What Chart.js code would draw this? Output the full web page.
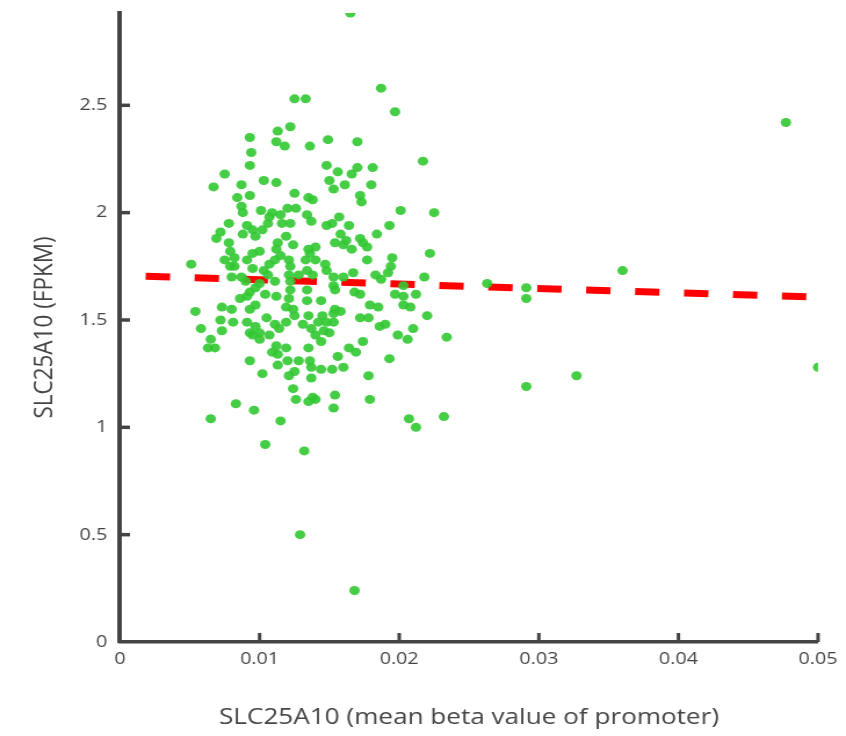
<!DOCTYPE html>
<html><head><meta charset="utf-8">
<script src="https://cdn.jsdelivr.net/npm/chart.js@4/dist/chart.umd.min.js"></script>
<style>html,body{margin:0;padding:0;background:#fff;overflow:hidden}
#c{display:block}</style>
</head><body>
<canvas id="c" width="729" height="736" style="width:846px;height:736px"></canvas>
<script>
// promoter mean beta value (x) and expression FPKM (y)
const xValues = [
0.0125,0.0113,0.0122,0.0093,0.0112,0.0118,0.0094,0.0093,0.0075,0.0067,
0.0087,0.0103,0.0112,0.0125,0.0093,0.0084,0.0133,0.0187,0.0197,0.0149,
0.0170,0.0136,0.0217,0.0148,0.0156,0.0170,0.0166,0.0181,0.0150,0.0153,
0.0161,0.0180,0.0172,0.0135,0.0138,0.0087,0.0088,0.0101,0.0109,0.0115,
0.0120,0.0126,0.0107,0.0078,0.0091,0.0088,0.0095,0.0102,0.0106,0.0116,
0.0122,0.0072,0.0069,0.0097,0.0119,0.0078,0.0113,0.0124,0.0079,0.0095,
0.0100,0.0112,0.0115,0.0075,0.0082,0.0091,0.0111,0.0121,0.0051,0.0079,
0.0082,0.0095,0.0107,0.0103,0.0122,0.0080,0.0087,0.0106,0.0121,0.0128,
0.0090,0.0111,0.0100,0.0122,0.0097,0.0093,0.0122,0.0086,0.0091,0.0104,
0.0112,0.0121,0.0173,0.0201,0.0225,0.0134,0.0137,0.0157,0.0148,0.0152,
0.0164,0.0193,0.0184,0.0158,0.0154,0.0162,0.0172,0.0174,0.0160,0.0177,
0.0166,0.0135,0.0140,0.0136,0.0177,0.0195,0.0222,0.0133,0.0140,0.0147,
0.0148,0.0194,0.0192,0.0183,0.0167,0.0160,0.0153,0.0134,0.0138,0.0187,
0.0218,0.0203,0.0153,0.0154,0.0168,0.0172,0.0197,0.0212,0.0134,0.0144,
0.0179,0.0203,0.0208,0.0220,0.0210,0.0206,0.0234,0.0477,0.0360,0.0263,
0.0291,0.0291,0.0500,0.0327,0.0291,0.0207,0.0212,0.0232,0.0054,0.0073,
0.0080,0.0093,0.0097,0.0119,0.0124,0.0125,0.0072,0.0081,0.0091,0.0105,
0.0111,0.0119,0.0058,0.0073,0.0097,0.0093,0.0100,0.0114,0.0095,0.0107,
0.0100,0.0065,0.0063,0.0068,0.0112,0.0119,0.0109,0.0113,0.0128,0.0120,
0.0093,0.0113,0.0102,0.0121,0.0125,0.0124,0.0126,0.0083,0.0096,0.0065,
0.0115,0.0134,0.0154,0.0158,0.0135,0.0145,0.0153,0.0142,0.0148,0.0153,
0.0131,0.0137,0.0146,0.0150,0.0140,0.0144,0.0185,0.0203,0.0172,0.0178,
0.0186,0.0190,0.0199,0.0174,0.0164,0.0169,0.0135,0.0156,0.0193,0.0136,
0.0137,0.0144,0.0152,0.0160,0.0137,0.0178,0.0154,0.0138,0.0135,0.0140,
0.0179,0.0153,0.0104,0.0132,0.0129,0.0168,0.0165
];
const yValues = [
2.53,2.38,2.40,2.35,2.33,2.31,2.28,2.22,2.18,2.12,
2.13,2.15,2.14,2.09,2.08,2.07,2.53,2.58,2.47,2.34,
2.33,2.31,2.24,2.22,2.19,2.21,2.18,2.21,2.15,2.11,
2.13,2.13,2.08,2.07,2.06,2.03,2.00,2.01,2.00,1.99,
2.02,2.02,1.98,1.95,1.94,1.90,1.92,1.92,1.95,1.95,
1.95,1.91,1.88,1.89,1.89,1.86,1.86,1.85,1.82,1.81,
1.82,1.83,1.80,1.78,1.79,1.78,1.78,1.78,1.76,1.75,
1.75,1.74,1.76,1.73,1.75,1.70,1.70,1.71,1.71,1.71,
1.68,1.68,1.67,1.68,1.65,1.63,1.64,1.60,1.61,1.62,
1.61,1.60,2.05,2.01,2.00,1.99,1.96,1.98,1.94,1.95,
1.94,1.94,1.90,1.90,1.86,1.87,1.88,1.86,1.85,1.84,
1.83,1.83,1.84,1.81,1.78,1.79,1.81,1.78,1.78,1.76,
1.73,1.75,1.72,1.71,1.72,1.70,1.70,1.73,1.71,1.69,
1.70,1.66,1.66,1.64,1.63,1.62,1.62,1.62,1.64,1.59,
1.57,1.61,1.56,1.52,1.46,1.41,1.42,2.42,1.73,1.67,
1.65,1.60,1.28,1.24,1.19,1.04,1.00,1.05,1.54,1.56,
1.55,1.55,1.57,1.56,1.55,1.52,1.50,1.49,1.49,1.51,
1.48,1.49,1.46,1.45,1.47,1.44,1.44,1.46,1.43,1.43,
1.41,1.41,1.37,1.37,1.38,1.37,1.35,1.34,1.31,1.31,
1.31,1.29,1.25,1.24,1.26,1.18,1.13,1.11,1.08,1.04,
1.03,1.59,1.55,1.54,1.52,1.52,1.53,1.49,1.49,1.49,
1.48,1.46,1.45,1.44,1.43,1.40,1.56,1.57,1.51,1.51,
1.47,1.48,1.43,1.40,1.37,1.35,1.37,1.33,1.32,1.31,
1.28,1.27,1.27,1.28,1.23,1.24,1.15,1.14,1.12,1.13,
1.13,1.09,0.92,0.89,0.50,0.24,2.93
];
// linear fit line end points
const fitX = [0.00184, 0.05];
const fitY = [1.704, 1.606];
// axes
const xTickValues = [0, 0.01, 0.02, 0.03, 0.04, 0.05];
const xTickLabels = ['0', '0.01', '0.02', '0.03', '0.04', '0.05'];
const yTickValues = [0, 0.5, 1, 1.5, 2, 2.5];
const yTickLabels = ['0', '0.5', '1', '1.5', '2', '2.5'];
const xTitle = 'SLC25A10 (mean beta value of promoter)';
const yTitle = 'SLC25A10 (FPKM)';

const points = xValues.map((x, i) => ({x, y: yValues[i]}));
const fitPoints = fitX.map((x, i) => ({x, y: fitY[i]}));

const AX = '#444';
const FONT = "'Open Sans', 'Noto Sans', sans-serif";

const innerTicks = {
  id: 'innerTicks',
  afterDatasetsDraw(chart) {
    const {ctx, chartArea: a, scales: {x, y}} = chart;
    ctx.save();
    ctx.strokeStyle = AX;
    ctx.lineCap = 'butt';
    ctx.lineWidth = 3;
    x.ticks.forEach(t => {
      if (t.value === 0) return;
      const px = x.getPixelForValue(t.value);
      ctx.beginPath(); ctx.moveTo(px, a.bottom); ctx.lineTo(px, a.bottom - 9); ctx.stroke();
    });
    ctx.lineWidth = 3.5;
    y.ticks.forEach(t => {
      if (t.value === 0) return;
      const py = y.getPixelForValue(t.value);
      ctx.beginPath(); ctx.moveTo(a.left, py); ctx.lineTo(a.left + 8.6, py); ctx.stroke();
    });
    ctx.restore();
  }
};

new Chart(document.getElementById('c'), {
  type: 'scatter',
  data: {
    datasets: [
      {
        data: points,
        pointRadius: 4.5,
        pointHoverRadius: 4.5,
        pointBorderWidth: 0,
        pointBackgroundColor: 'rgba(50,200,50,0.9)',
        showLine: false,
        clip: 0,
        order: 0
      },
      {
        type: 'line',
        data: fitPoints,
        borderColor: '#ff0000',
        borderWidth: 7,
        borderDash: [21, 21.2],
        borderCapStyle: 'butt',
        pointRadius: 0,
        fill: false,
        tension: 0,
        order: 1
      }
    ]
  },
  options: {
    responsive: false,
    devicePixelRatio: 1,
    animation: false,
    events: [],
    layout: {padding: {top: 13, right: 24.1, bottom: 0, left: 0}},
    plugins: {legend: {display: false}, tooltip: {enabled: false}},
    scales: {
      x: {
        type: 'linear', position: 'bottom', min: 0, max: 0.05,
        afterBuildTicks: s => { s.ticks = xTickValues.map(v => ({value: v})); },
        afterFit: s => { s.height = 94; s.paddingLeft = 0; s.paddingRight = 0; s.paddingTop = 0; s.paddingBottom = 0; },
        grid: {display: false, drawTicks: false},
        border: {display: true, color: AX, width: 3.5},
        ticks: {
          color: AX, padding: 6.8, maxRotation: 0, autoSkip: false,
          font: {family: FONT, size: 17},
          callback: (v, i) => xTickLabels[i]
        },
        title: {display: true, text: xTitle, color: AX,
          font: {family: FONT, size: 22.5}, padding: {top: 0, bottom: 4.5}}
      },
      y: {
        type: 'linear', position: 'left', min: 0, max: 2.93,
        afterBuildTicks: s => { s.ticks = yTickValues.map(v => ({value: v})); },
        afterFit: s => { s.width = 103.4; s.paddingTop = 0; s.paddingBottom = 0; s.paddingLeft = 0; s.paddingRight = 0; },
        grid: {display: false, drawTicks: false},
        border: {display: true, color: AX, width: 4},
        ticks: {
          color: AX, padding: 11, autoSkip: false,
          font: {family: FONT, size: 17},
          callback: (v, i) => yTickLabels[i]
        },
        title: {display: true, text: yTitle, color: AX,
          font: {family: FONT, size: 22.5}, padding: {top: 25.3, bottom: 0}}
      }
    }
  },
  plugins: [innerTicks]
});
</script>
</body></html>
